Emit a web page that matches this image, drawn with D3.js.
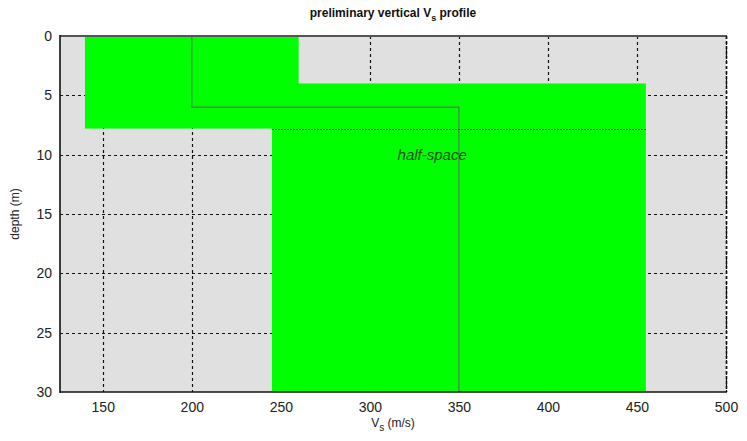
<!DOCTYPE html>
<html>
<head>
<meta charset="utf-8">
<script src="https://cdn.jsdelivr.net/npm/d3@7"></script>
<style>
  html, body { margin: 0; padding: 0; background: #fff; }
  svg { display: block; font-family: "Liberation Sans", Arial, sans-serif; }
</style>
</head>
<body>
<svg id="chart" width="747" height="441"></svg>
<script>
// Search bounds for the layer-over-half-space model
const layerVs = [140, 260];        // m/s, top layer velocity range
const halfSpaceVs = [245, 455];    // m/s, half-space velocity range
const layerThickness = [4, 7.8];   // m, min / max thickness of the top layer

// Preliminary profile: Vs per layer and interface depth
const profileVs = [200, 350];
const profileInterface = 6;

const xTicks = [150, 200, 250, 300, 350, 400, 450, 500];
const yTicks = [0, 5, 10, 15, 20, 25, 30];
const xDomain = [126, 500];
const depthDomain = [0, 30];

const svg = d3.select("#chart");
const L = 60, R = 726, T = 36, B = 392;

const x = d3.scaleLinear().domain(xDomain).range([L, R]);
const y = d3.scaleLinear().domain(depthDomain).range([T, B]);

// plot background
svg.append("rect").attr("x", L).attr("y", T).attr("width", R - L).attr("height", B - T)
  .attr("fill", "#e0e0e0");

// dashed grid
const grid = svg.append("g").attr("stroke", "#111").attr("stroke-width", 1.2)
  .attr("stroke-dasharray", "3,3");
grid.selectAll("line.v").data(xTicks).join("line").attr("class", "v")
  .attr("x1", d => Math.round(x(d)) + 0.5).attr("x2", d => Math.round(x(d)) + 0.5)
  .attr("y1", T).attr("y2", B);
grid.selectAll("line.h").data(yTicks.filter(d => d > 0 && d < 30)).join("line").attr("class", "h")
  .attr("y1", d => Math.round(y(d)) + 0.5).attr("y2", d => Math.round(y(d)) + 0.5)
  .attr("x1", L).attr("x2", R);

// admissible region: top layer and half-space
const regions = [
  { vs: layerVs, d: [0, layerThickness[1]] },
  { vs: halfSpaceVs, d: [layerThickness[0], depthDomain[1]] }
];
svg.selectAll("rect.region").data(regions).join("rect").attr("class", "region")
  .attr("x", d => x(d.vs[0])).attr("width", d => x(d.vs[1]) - x(d.vs[0]))
  .attr("y", d => y(d.d[0])).attr("height", d => y(d.d[1]) - y(d.d[0]))
  .attr("fill", "#00ff00");

// deepest possible top of the half-space
svg.append("line")
  .attr("x1", x(halfSpaceVs[0])).attr("x2", x(halfSpaceVs[1]))
  .attr("y1", Math.round(y(layerThickness[1])) + 0.5).attr("y2", Math.round(y(layerThickness[1])) + 0.5)
  .attr("stroke", "#333").attr("stroke-width", 1).attr("stroke-dasharray", "2,1");

// preliminary step profile
const profilePts = [
  [profileVs[0], 0], [profileVs[0], profileInterface],
  [profileVs[1], profileInterface], [profileVs[1], depthDomain[1]]
];
svg.append("path")
  .attr("d", d3.line().x(d => x(d[0])).y(d => y(d[1]))(profilePts))
  .attr("fill", "none").attr("stroke", "#4f7f4f").attr("stroke-width", 1.2);

// half-space label
svg.append("text").attr("x", x(335)).attr("y", y(10) + 5)
  .attr("text-anchor", "middle").attr("font-style", "italic").attr("font-size", 15)
  .attr("fill", "#1a4a1a").text("half-space");

// frame
svg.append("line").attr("x1", L).attr("x2", R + 1).attr("y1", T).attr("y2", T)
  .attr("stroke", "#555").attr("stroke-width", 2);
svg.append("line").attr("x1", L).attr("x2", L).attr("y1", T - 1).attr("y2", B + 1)
  .attr("stroke", "#111").attr("stroke-width", 1.6);
svg.append("line").attr("x1", L).attr("x2", R + 1).attr("y1", B).attr("y2", B)
  .attr("stroke", "#111").attr("stroke-width", 1.6);
svg.append("line").attr("x1", R + 0.5).attr("x2", R + 0.5).attr("y1", T).attr("y2", B)
  .attr("stroke", "#111").attr("stroke-width", 1.6).attr("stroke-dasharray", "3,2");

// axes (labels only, grid serves as ticks)
const xAxis = svg.append("g").attr("transform", `translate(0,${B})`)
  .call(d3.axisBottom(x).tickValues(xTicks).tickSize(0).tickPadding(10));
const yAxis = svg.append("g").attr("transform", `translate(${L},0)`)
  .call(d3.axisLeft(y).tickValues(yTicks).tickSize(0).tickPadding(8));
[xAxis, yAxis].forEach(a => {
  a.select(".domain").remove();
  a.selectAll("text").attr("font-size", 14).attr("fill", "#222")
    .attr("font-family", "Liberation Sans, Arial, sans-serif");
});

// title
const title = svg.append("text").attr("x", (L + R) / 2).attr("y", 17)
  .attr("text-anchor", "middle").attr("font-size", 12).attr("font-weight", "bold").attr("fill", "#111");
title.append("tspan").text("preliminary vertical V");
title.append("tspan").attr("font-size", 9).attr("dy", 4).text("s");
title.append("tspan").attr("dy", -4).text(" profile");

// x label
const xl = svg.append("text").attr("x", (L + R) / 2).attr("y", 427)
  .attr("text-anchor", "middle").attr("font-size", 12).attr("fill", "#222");
xl.append("tspan").text("V");
xl.append("tspan").attr("font-size", 10).attr("dy", 4).text("s");
xl.append("tspan").attr("dy", -4).text(" (m/s)");

// y label
svg.append("text").attr("transform", `translate(19,${(T + B) / 2}) rotate(-90)`)
  .attr("text-anchor", "middle").attr("font-size", 12).attr("fill", "#222").text("depth (m)");
</script>
</body>
</html>
